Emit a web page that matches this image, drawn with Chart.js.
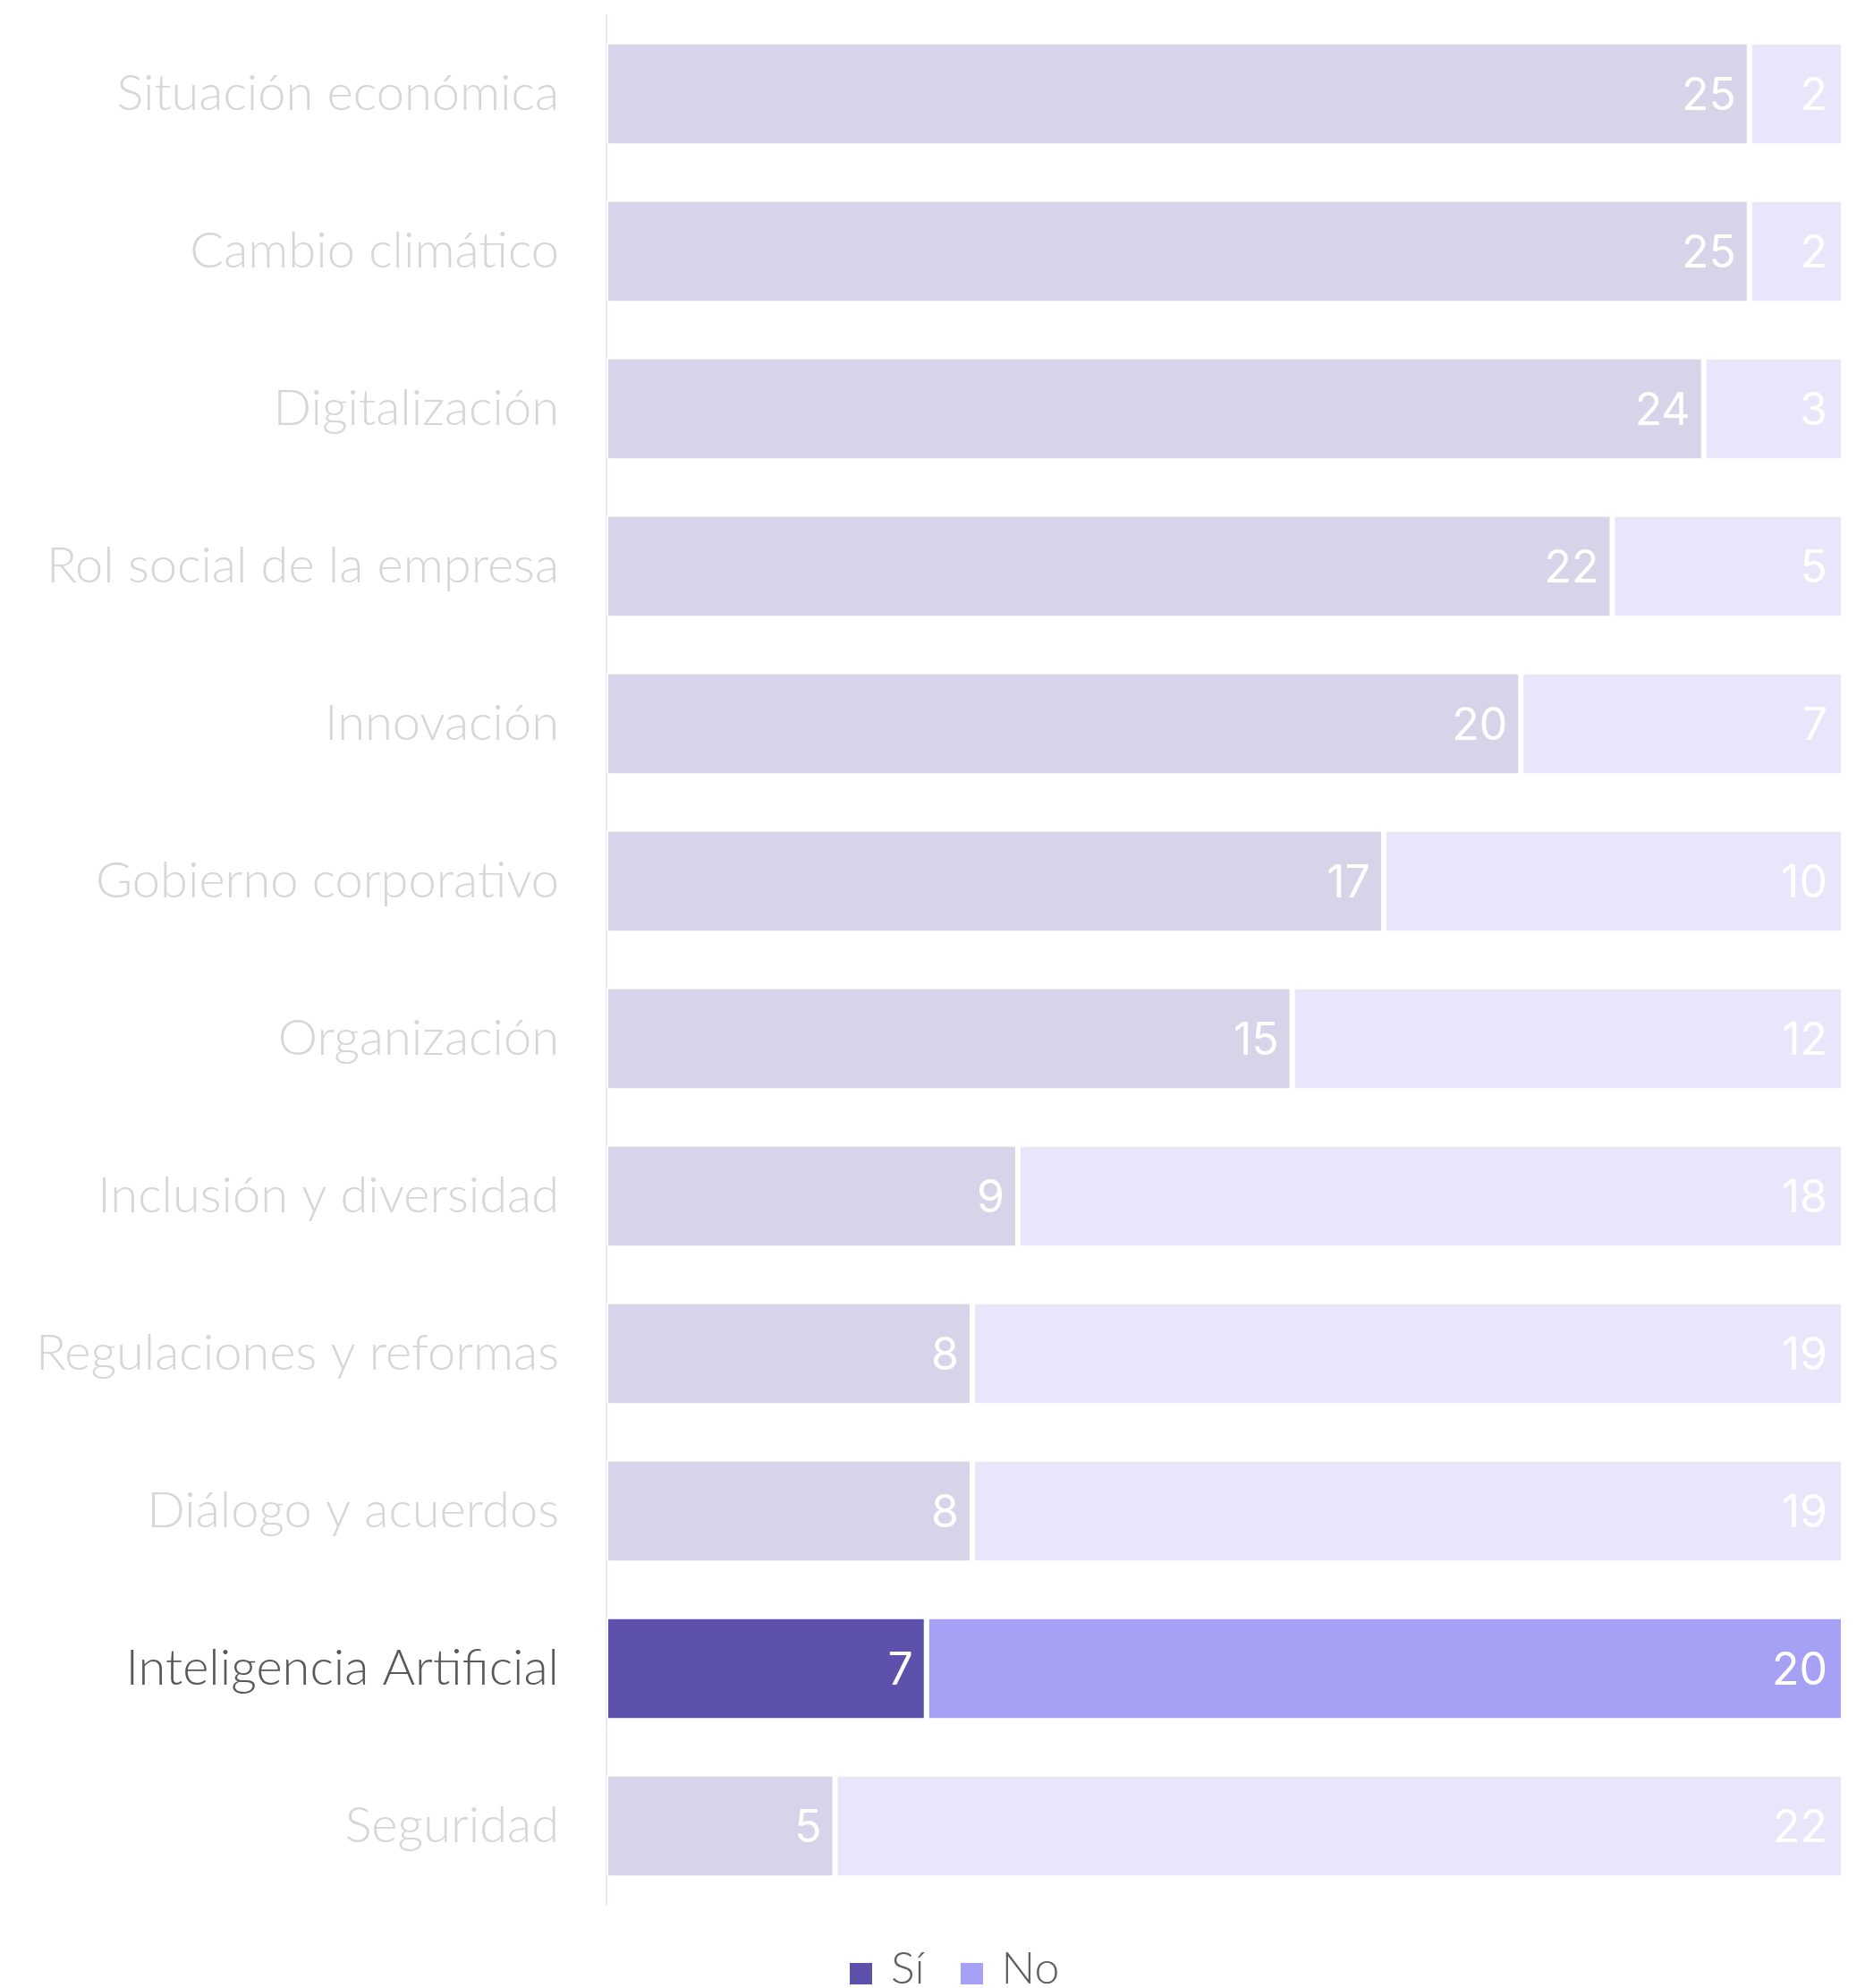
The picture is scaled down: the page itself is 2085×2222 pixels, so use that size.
<!DOCTYPE html>
<html>
<head>
<meta charset="utf-8">
<script src="https://cdn.jsdelivr.net/npm/chart.js@4.4.1/dist/chart.umd.min.js"></script>
<style>
    body { margin: 0; background: #fff; }
    #wrap { position: relative; width: 2085px; height: 2222px; }
    #legend { position: absolute; left: 950px; top: 2168px; font-family: 'Lato', sans-serif; font-weight: 300; font-size: 50px; color: #5f5f5f; white-space: nowrap; line-height: 60px; }
    #legend span.box { display: inline-block; width: 25px; height: 24px; vertical-align: -1px; margin-right: 21px; }
    #legend span.item { margin-right: 40px; }
</style>
</head>
<body>
<div id="wrap">
    <canvas id="barChart"></canvas>
    <div id="legend"></div>
</div>
<script>
const categories = [
    'Situación económica', 'Cambio climático', 'Digitalización', 'Rol social de la empresa',
    'Innovación', 'Gobierno corporativo', 'Organización', 'Inclusión y diversidad',
    'Regulaciones y reformas', 'Diálogo y acuerdos', 'Inteligencia Artificial', 'Seguridad'
];
const siValues = [25, 25, 24, 22, 20, 17, 15, 9, 8, 8, 7, 5];
const noValues = [2, 2, 3, 5, 7, 10, 12, 18, 19, 19, 20, 22];
const highlightIndex = 10;

const siColor = '#5c52ab';
const noColor = '#a7a1f6';
const siFaded = '#d7d3e9';
const noFaded = '#e8e6fb';

// Draws the white value inside the end of each segment
const valueLabels = {
    id: 'valueLabels',
    afterDatasetsDraw(chart) {
        const ctx = chart.ctx;
        ctx.save();
        ctx.font = '400 50px Inter, sans-serif';
        ctx.fillStyle = '#ffffff';
        ctx.textAlign = 'right';
        ctx.textBaseline = 'middle';
        chart.data.datasets.forEach((ds, di) => {
            chart.getDatasetMeta(di).data.forEach((bar, i) => {
                ctx.fillText(String(ds.data[i]), bar.x - 15, bar.y + 3);
            });
        });
        ctx.restore();
    }
};

const ctx = document.getElementById('barChart').getContext('2d');
const myChart = new Chart(ctx, {
    type: 'bar',
    data: {
        labels: categories,
        datasets: [
            {
                label: 'Sí',
                data: siValues,
                backgroundColor: c => c.dataIndex === highlightIndex ? siColor : siFaded,
                borderColor: '#ffffff',
                borderWidth: { left: 2, right: 3 },
                borderSkipped: false
            },
            {
                label: 'No',
                data: noValues,
                backgroundColor: c => c.dataIndex === highlightIndex ? noColor : noFaded,
                borderColor: '#ffffff',
                borderWidth: { left: 3 },
                borderSkipped: false
            }
        ]
    },
    options: {
        indexAxis: 'y',
        responsive: true,
        maintainAspectRatio: false,
        animation: false,
        datasets: {
            bar: { categoryPercentage: 1, barPercentage: 0.63 }
        },
        layout: {
            padding: { top: 17, right: 27, bottom: 93, left: 0 }
        },
        plugins: {
            legend: { display: false },
            tooltip: { enabled: false }
        },
        scales: {
            x: {
                stacked: true,
                display: false,
                min: 0,
                max: 27
            },
            y: {
                stacked: true,
                grid: { display: false },
                border: { display: true, color: '#ebe9f6', width: 2 },
                ticks: {
                    padding: 45,
                    font: { family: 'Lato', weight: '300', size: 56 },
                    color: c => c.index === highlightIndex ? '#595959' : '#d6d6d6'
                },
                afterFit(scale) {
                    scale.width = 678;
                    scale.paddingTop = 0;
                    scale.paddingBottom = 0;
                }
            }
        }
    },
    plugins: [valueLabels]
});

// Legend drawn below the chart
const legendDiv = document.getElementById('legend');
legendDiv.innerHTML = myChart.data.datasets.map((ds, i) => {
    const color = i === 0 ? siColor : noColor;
    return `<span class="item"><span class="box" style="background:${color}"></span>${ds.label}</span>`;
}).join('');
</script>
</body>
</html>
